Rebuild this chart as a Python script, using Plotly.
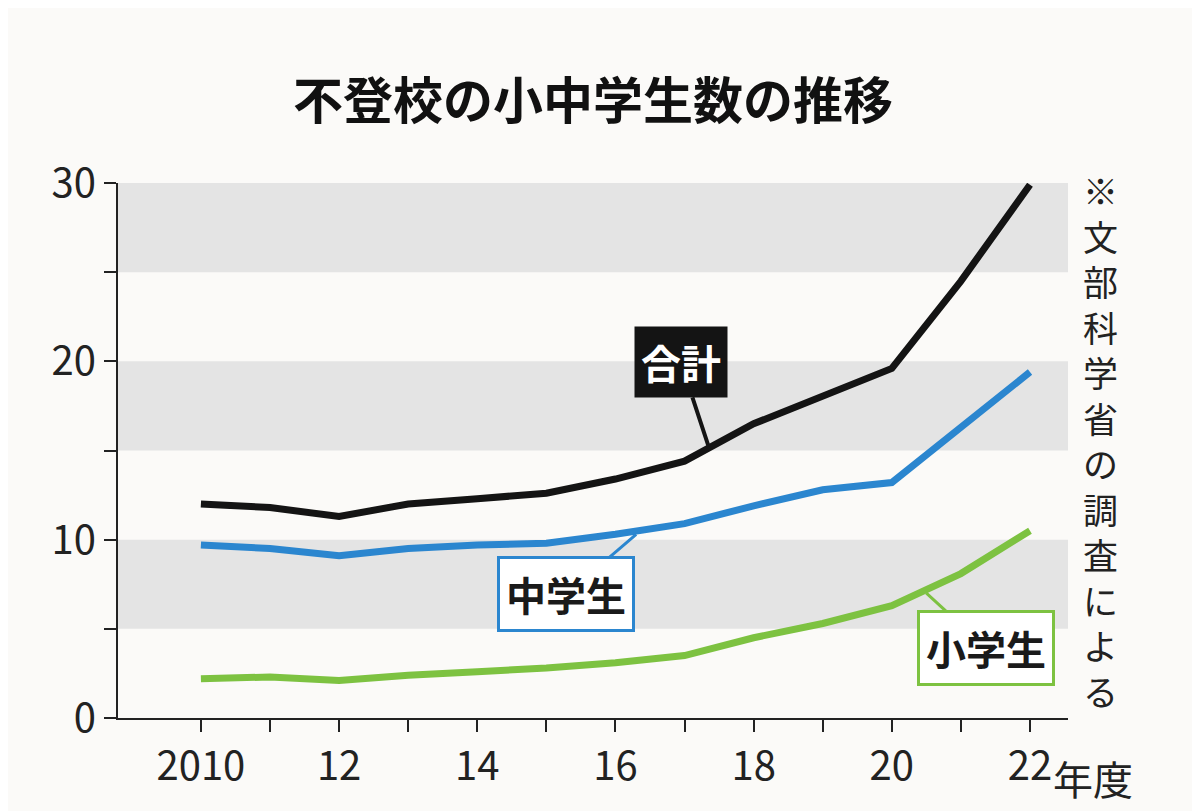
import plotly.graph_objects as go

years = list(range(2010, 2023))
total = [12.0, 11.8, 11.3, 12.0, 12.3, 12.6, 13.4, 14.4, 16.5, 18.1, 19.6, 24.5, 29.9]
middle = [9.7, 9.5, 9.1, 9.5, 9.7, 9.8, 10.3, 10.9, 11.9, 12.8, 13.2, 16.3, 19.4]
elementary = [2.2, 2.3, 2.1, 2.4, 2.6, 2.8, 3.1, 3.5, 4.5, 5.3, 6.3, 8.1, 10.5]
xticktext = ["2010", "", "12", "", "14", "", "16", "", "18", "", "20", "", "22"]
title = "不登校の小中学生数の推移"
note = "※文部科学省の調査による"

FONT = "Noto Sans CJK JP"
fig = go.Figure()
for ys, c in [(elementary, "#7dc241"), (middle, "#2b86cf"), (total, "#141414")]:
    fig.add_trace(go.Scatter(x=years, y=ys, mode="lines", line=dict(color=c, width=7), showlegend=False))

for lo, hi in [(5, 10), (15, 20), (25, 30)]:
    fig.add_shape(type="rect", xref="paper", yref="y", x0=0, x1=1, y0=lo, y1=hi,
                  fillcolor="#e4e4e4", line_width=0, layer="below")

ann = []
ann.append(dict(text="<b>"+title+"</b>", x=0.5, y=1.16, xref="paper", yref="paper",
                showarrow=False, font=dict(size=50, color="#111", family=FONT), yanchor="middle"))
ann.append(dict(text="（万人）", x=2008.65, y=30, xref="x", yref="y", xanchor="left", yanchor="middle",
                showarrow=False, font=dict(size=34, color="#222", family=FONT)))
ann.append(dict(text="年度", x=2022.3, y=-0.112, xref="x", yref="paper", xanchor="left", yanchor="middle",
                showarrow=False, font=dict(size=40, color="#222", family=FONT)))
ann.append(dict(text="<br>".join(note), x=1.055, y=0.52, xref="paper", yref="paper",
                showarrow=False, font=dict(size=35, color="#222", family=FONT)))
# callouts
ann.append(dict(text="<b>合計</b>", x=2017.35, y=15.2, xref="x", yref="y", ax=-28, ay=-85,
                showarrow=True, arrowhead=0, arrowwidth=4, arrowcolor="#141414",
                bgcolor="#141414", borderpad=6, font=dict(size=40, color="white", family=FONT)))
ann.append(dict(text="<b>中学生</b>", x=2016.3, y=10.3, xref="x", yref="y", ax=-70, ay=60,
                showarrow=True, arrowhead=0, arrowwidth=3, arrowcolor="#2b86cf",
                bgcolor="white", bordercolor="#2b86cf", borderwidth=3, borderpad=6,
                font=dict(size=40, color="#1a1a1a", family=FONT)))
ann.append(dict(text="<b>小学生</b>", x=2020.5, y=7.0, xref="x", yref="y", ax=60, ay=55,
                showarrow=True, arrowhead=0, arrowwidth=3, arrowcolor="#7dc241",
                bgcolor="white", bordercolor="#7dc241", borderwidth=3, borderpad=6,
                font=dict(size=40, color="#1a1a1a", family=FONT)))

fig.update_layout(
    width=1200, height=811, margin=dict(l=110, r=140, t=175, b=101),
    paper_bgcolor="#fbfaf8", plot_bgcolor="#fbfaf8", annotations=ann,
    xaxis=dict(range=[2008.8, 2022.55], tickvals=years, ticktext=xticktext, ticks="outside",
               ticklen=12, tickwidth=2, tickcolor="#222", showgrid=False, zeroline=False,
               showline=True, linecolor="#222", linewidth=2,
               tickfont=dict(size=40, color="#222", family=FONT)),
    yaxis=dict(range=[0, 30], tickvals=[0, 5, 10, 15, 20, 25, 30], ticktext=["0", "", "10", "", "20", "", "30"],
               ticks="outside", ticklen=12, tickwidth=2, tickcolor="#222", showgrid=False, zeroline=False,
               showline=True, linecolor="#222", linewidth=2,
               tickfont=dict(size=40, color="#222", family=FONT)),
)
fig.write_html("out.html")
